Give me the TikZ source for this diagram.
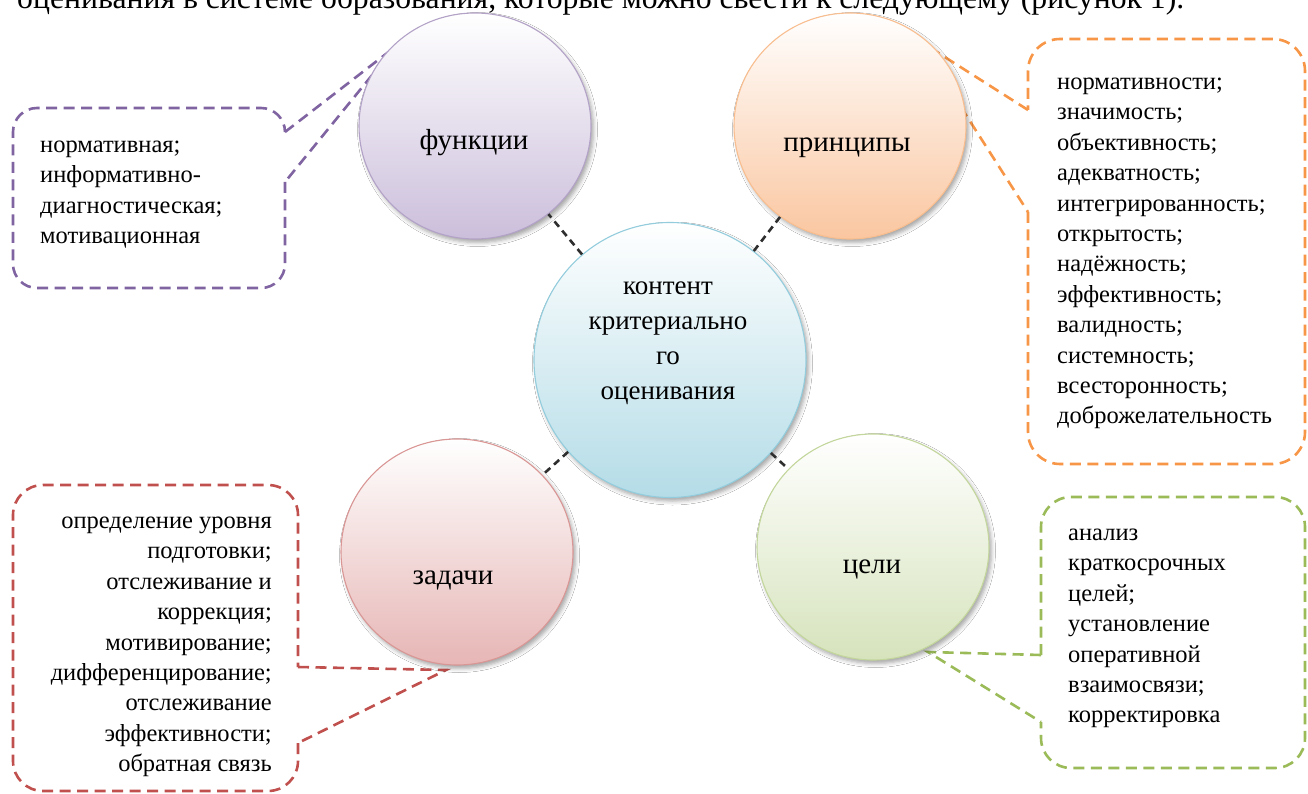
\documentclass[tikz,border=0pt]{standalone}
\usepackage{fontspec}
\setmainfont{Liberation Serif}
\usetikzlibrary{shapes.geometric,shadows.blur}

% theme colours: dashed callout lines, circle rims and circle fills
\definecolor{purpleline}{HTML}{8064A2}
\definecolor{orangeline}{HTML}{F79646}
\definecolor{redline}{HTML}{C0504D}
\definecolor{greenline}{HTML}{9BBB59}
\definecolor{purpleedge}{HTML}{B3A2C7}
\definecolor{orangeedge}{HTML}{F9BE8F}
\definecolor{blueedge}{HTML}{93CDDD}
\definecolor{rededge}{HTML}{D99694}
\definecolor{greenedge}{HTML}{C3D69B}
\definecolor{purplefill}{HTML}{CBBEDB}
\definecolor{orangefill}{HTML}{FAC6A0}
\definecolor{bluefill}{HTML}{B4DCE7}
\definecolor{redfill}{HTML}{E6B6B5}
\definecolor{greenfill}{HTML}{D6E3BC}
\definecolor{linkgray}{HTML}{2E2E2E}

\begin{document}
\begin{tikzpicture}[x=1pt,y=-1pt,
  bubble/.style={ellipse, draw=#1edge, line width=1.1pt,
    top color=white, bottom color=#1fill, inner sep=0pt,
    minimum width=232pt, minimum height=226pt,
    blur shadow={shadow xshift=2.5pt, shadow yshift=-3.5pt,
      shadow blur radius=4pt, shadow opacity=35}},
  bubbletext/.style={inner sep=0pt, anchor=base,
    font=\fontsize{29}{29}\selectfont},
  coretext/.style={inner sep=0pt, anchor=north, align=center,
    font=\fontsize{27}{35}\selectfont},
  listtext/.style={inner sep=0pt, font=\fontsize{24.5}{30.4}\selectfont},
  callout/.style={draw=#1line, line width=2.6pt,
    dash pattern=on 11pt off 6.5pt},
  link/.style={draw=linkgray, line width=2.6pt,
    dash pattern=on 7pt off 5pt}]

\useasboundingbox (0,0) rectangle (1308,794);
\clip (0,0) rectangle (1308,794);
\fill[white] (0,0) rectangle (1308,794);

% running text line above the scheme
\node[inner sep=0pt, anchor=base west, font=\fontsize{31.7}{31.7}\selectfont] (caption) at (17,9)
  {оценивания в системе образования, которые можно свести к следующему (рисунок 1).};

% tips of the callout pointers
\coordinate (tipP) at (395,47);
\coordinate (tipO) at (918,40);
\coordinate (tipR) at (446,670);
\coordinate (tipG) at (928,652);

% callout frames (rounded boxes, open where the pointer leaves)
\draw[callout=purple, rounded corners=24pt]
  (285,182) -- (285,288) -- (13,288) -- (13,108) -- (285,108) -- (285,132);
\draw[callout=purple] (285,132) -- (tipP) -- (285,182);

\draw[callout=orange, rounded corners=32pt]
  (1028,212) -- (1028,464) -- (1305,464) -- (1305,39) -- (1028,39) -- (1028,110);
\draw[callout=orange] (1028,110) -- (tipO) -- (1028,212);

\draw[callout=red, rounded corners=30pt]
  (298,743) -- (298,791) -- (13,791) -- (13,485) -- (298,485) -- (298,667);
\draw[callout=red] (298,667) -- (tipR) -- (298,743);

\draw[callout=green, rounded corners=30pt]
  (1041,655) -- (1041,497) -- (1305,497) -- (1305,768) -- (1041,768) -- (1041,722);
\draw[callout=green] (1041,655) -- (tipG) -- (1041,722);

% callout texts
\node[listtext, anchor=north west, align=left] (funcList) at (40,131)
  {\strut нормативная;\\информативно-\\диагностическая;\\мотивационная};
\node[listtext, anchor=north west, align=left] (prinList) at (1057,68)
  {\strut нормативности;\\значимость;\\объективность;\\адекватность;\\интегрированность;\\открытость;\\надёжность;\\эффективность;\\валидность;\\системность;\\всесторонность;\\доброжелательность};
\node[listtext, anchor=north east, align=right] (taskList) at (272,507)
  {\strut определение уровня\\подготовки;\\отслеживание и\\коррекция;\\мотивирование;\\дифференцирование;\\отслеживание\\эффективности;\\обратная связь};
\node[listtext, anchor=north west, align=left] (goalList) at (1068,519)
  {\strut анализ\\краткосрочных\\целей;\\установление\\оперативной\\взаимосвязи;\\корректировка};

% circles
\node[bubble=purple] (func) at (475,126) {};
\node[bubble=orange] (prin) at (850,126) {};
\node[bubble=red] (task) at (457,552) {};
\node[bubble=green] (goal) at (873,547) {};
\node[bubble=blue, minimum width=272pt, minimum height=275pt] (core) at (670,360) {};

% dashed links from the centre to the four circles
\draw[link] (core) -- (func);
\draw[link] (core) -- (prin);
\draw[link] (core) -- (task);
\draw[link] (core) -- (goal);

% circle captions
\node[bubbletext] (funcT) at (474,149.5) {функции};
\node[bubbletext] (prinT) at (847,151.5) {принципы};
\node[bubbletext] (taskT) at (453,584.5) {задачи};
\node[bubbletext] (goalT) at (872,573.5) {цели};
\node[coretext] (coreT) at (668,269.5)
  {\strut контент\\критериально\\го\\оценивания};

\end{tikzpicture}
\end{document}
